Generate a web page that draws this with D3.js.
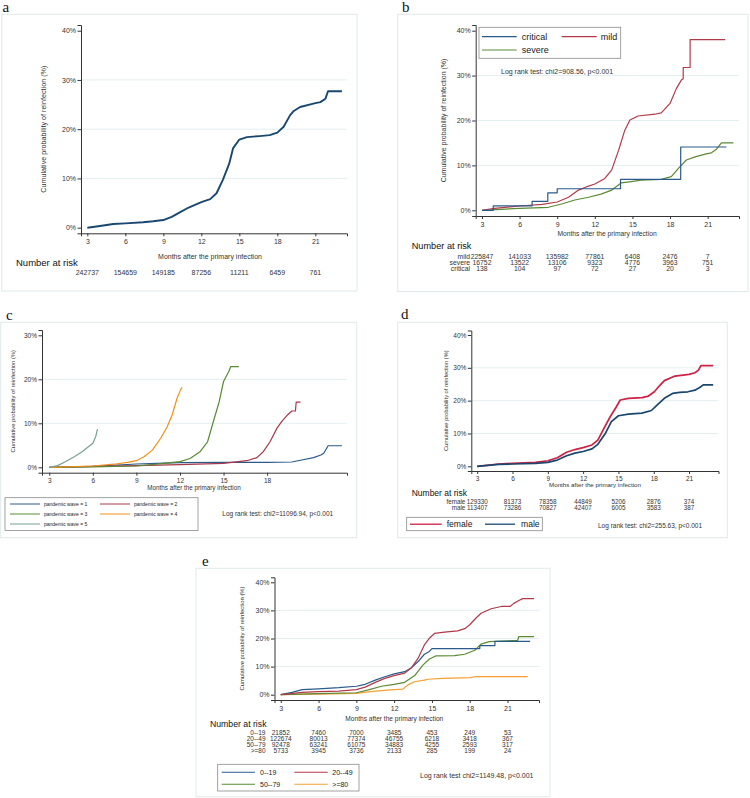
<!DOCTYPE html>
<html><head><meta charset="utf-8">
<script src="https://cdn.jsdelivr.net/npm/d3@7"></script>
<style>
body{margin:0;background:#fff}
svg{display:block}
text{font-family:"Liberation Sans",Arial,sans-serif;fill:#333}
</style>
</head><body>
<svg id="chart" width="750" height="798"></svg>
<script>
// ---------- shared ticks ----------
const monthTicks = [3, 6, 9, 12, 15, 18, 21];
const monthTicksC = [3, 6, 9, 12, 15, 18];
const pctTicks40 = [0, 10, 20, 30, 40];
const pctTicks30 = [0, 10, 20, 30];
const xTitle = "Months after the primary infection";
const yTitle = "Cumulative probability of reinfection (%)";

// ---------- panel a ----------
const overallA = [[3,0],[4,0.34],[5.05,0.74],[6,0.88],[7.4,1.1],[8.2,1.3],[9,1.55],[9.66,2.2],[10.3,3.1],[11,4.1],[12,5.2],[12.7,5.8],[13.2,7.0],[13.7,9.7],[14.2,13.0],[14.5,16.1],[15,17.9],[15.6,18.4],[16.6,18.6],[17.4,18.8],[18,19.3],[18.5,20.5],[19,22.8],[19.3,23.7],[19.8,24.5],[21,25.3],[21.4,25.5],[21.8,26.2],[22.0,27.7],[23.1,27.7]];
const riskA = [242737, 154659, 149185, 87256, 11211, 6459, 761];

// ---------- panel b ----------
const criticalB = [[3,0],[3.9,1.0],[7.0,2.0],[8.25,3.9],[9.0,4.8],[14.05,6.9],[18.85,14.1],[22.5,14.1]];
const mildB = [[3,0],[4,0.45],[6,0.96],[7.8,1.3],[9,1.85],[9.9,2.9],[10.7,4.5],[11.5,5.4],[12,5.85],[12.8,7.1],[13.35,9.0],[13.9,13.4],[14.4,17.9],[14.8,20.1],[15.45,21.0],[16.8,21.4],[17.3,21.7],[18,23.8],[18.5,27.1],[18.9,29.0],[19.05,29.3],[19.05,31.8],[19.6,31.8],[19.6,38.0],[22.4,38.0]];
const severeB = [[3,0],[6,0.45],[8.3,0.67],[9.35,1.4],[10.4,2.3],[11.5,2.9],[12.5,3.6],[13.35,4.5],[14.1,6.1],[14.9,6.4],[15.7,6.7],[17.3,6.9],[18.1,7.5],[18.65,9.3],[19.3,11.2],[20,11.9],[20.8,12.5],[21.3,12.8],[21.7,13.6],[22.1,15.0],[23.05,15.0]];
const riskLabelsB = ["mild", "severe", "critical"];
const riskMildB = [225847, 141033, 135982, 77861, 6408, 2476, 7];
const riskSevereB = [16752, 13522, 13106, 9323, 4776, 3963, 751];
const riskCriticalB = [138, 104, 97, 72, 27, 20, 3];

// ---------- panel c ----------
const wave1C = [[3,0],[6,0.2],[9,0.75],[10.4,0.9],[12,1.06],[15,1.14],[18,1.14],[19.7,1.2],[20.3,1.6],[21.2,2.2],[21.7,2.8],[21.9,3.2],[22.2,4.9],[23.15,4.9]];
const wave2C = [[3,0],[6,0.2],[9,0.4],[12,0.6],[15,0.9],[16.6,1.5],[17.3,2.2],[17.75,3.6],[18.2,5.8],[18.68,8.9],[19.0,10.4],[19.4,11.9],[19.7,12.8],[19.95,12.8],[20.0,14.8],[20.3,14.8]];
const wave3C = [[3,0],[6,0.1],[9,0.3],[10.4,0.7],[12,1.3],[12.7,2.0],[13.4,3.6],[13.9,5.8],[14.3,10.4],[14.7,14.9],[15,19.5],[15.35,21.7],[15.5,22.9],[16.05,22.9]];
const wave4C = [[3,0],[6,0.3],[7.46,0.7],[8.38,1.1],[9,1.5],[9.52,2.4],[10.1,3.9],[10.67,6.6],[11.12,9.2],[11.47,12.0],[11.8,15.7],[12.04,17.6],[12.15,18.2]];
const wave5C = [[3,0],[3.57,0.38],[4.14,1.3],[4.72,2.4],[5.29,3.6],[5.63,4.5],[6,5.45],[6.2,7.0],[6.32,8.7]];
const waveLabelsC = ["pandemic wave = 1", "pandemic wave = 2", "pandemic wave = 3", "pandemic wave = 4", "pandemic wave = 5"];

// ---------- panel d ----------
const femaleD = [[3,0],[4.84,0.7],[6,0.9],[7.95,1.2],[9,1.7],[9.8,2.6],[10.6,4.3],[11.3,5.1],[12,5.7],[12.75,6.5],[13.25,8.0],[13.7,11.1],[14.3,15.1],[14.8,18.0],[15.15,20.2],[15.85,20.7],[17,20.9],[17.55,21.4],[18.05,22.7],[18.5,24.6],[18.9,26.1],[19.8,27.5],[21,28.0],[21.5,28.5],[21.8,29.3],[22.0,30.7],[23.05,30.7]];
const maleD = [[3,0],[4.84,0.6],[6,0.7],[7.95,0.9],[9,1.2],[9.8,1.9],[10.6,3.2],[11.3,4.0],[12,4.5],[12.75,5.3],[13.25,6.7],[13.9,10.1],[14.4,13.6],[15,15.4],[15.85,15.9],[17,16.2],[17.8,17.0],[18.3,18.7],[18.9,20.7],[19.6,22.2],[20.2,22.5],[20.9,22.7],[21.5,23.2],[21.9,24.0],[22.2,24.8],[23.05,24.8]];
const riskLabelsD = ["female", "male"];
const riskFemaleD = [129330, 81373, 78358, 44849, 5206, 2876, 374];
const riskMaleD = [113407, 73286, 70827, 42407, 6005, 3583, 387];

// ---------- panel e ----------
const age0E = [[3,0],[3.9,0.8],[4.7,1.8],[6,2.1],[7.6,2.5],[9,3.0],[9.7,3.7],[10.5,5.2],[11.26,6.4],[12,7.4],[12.84,8.2],[13.37,9.6],[13.9,11.8],[14.4,14.4],[14.8,15.4],[15,16.4],[18.8,16.4],[18.8,17.5],[20,17.5],[20,19.0],[22.8,19.0]];
const age20E = [[3,0],[4.7,0.8],[6,1.07],[7.6,1.3],[9,1.8],[9.7,2.7],[10.5,4.4],[11.26,5.8],[12,6.8],[12.84,7.7],[13.37,9.6],[13.9,13.0],[14.4,17.7],[14.8,20.1],[15.2,21.8],[16,22.3],[17.05,22.7],[17.6,23.5],[18,24.9],[18.5,27.3],[18.9,29.0],[19.7,30.6],[20.5,31.4],[21.2,31.4],[21.5,32.5],[21.9,33.5],[22.2,34.2],[23.1,34.2]];
const age50E = [[3,0],[6,0.36],[9,0.7],[9.95,1.7],[11,3.0],[12,3.7],[12.84,4.4],[13.63,6.8],[14.3,10.6],[14.8,12.7],[15.3,13.8],[16.8,13.9],[17.6,14.4],[18.4,15.8],[18.9,18.0],[19.55,18.9],[21,19.2],[21.8,19.3],[21.9,20.7],[23.1,20.7]];
const age80E = [[3,0],[6,0.24],[9,0.5],[10.5,1.3],[12,1.8],[12.7,2.0],[13.1,3.5],[13.6,4.6],[14.4,5.2],[14.7,5.5],[15.85,5.8],[18.1,6.1],[18.4,6.4],[22.6,6.4]];
const riskLabelsE = ["0--19", "20--49", "50--79", ">=80"];
const risk0E = [21852, 7460, 7000, 3485, 453, 249, 53];
const risk20E = [122674, 80013, 77374, 46755, 6218, 3418, 367];
const risk50E = [92478, 63241, 61075, 34883, 4255, 2593, 317];
const risk80E = [5733, 3945, 3736, 2133, 285, 199, 24];

// ---------- colours ----------
const NAVY = "#1a476f";

const svg = d3.select("#chart");

function panel(cfg) {
  const g = svg.append("g");
  g.append("rect").attr("x", cfg.frame[0]).attr("y", cfg.frame[1])
    .attr("width", cfg.frame[2] - cfg.frame[0]).attr("height", cfg.frame[3] - cfg.frame[1])
    .attr("fill", "none").attr("stroke", "#dfe9ec").attr("stroke-width", 1);
  g.append("text").attr("x", cfg.label[1]).attr("y", cfg.label[2]).text(cfg.label[0])
    .style("font-family", "'Liberation Serif','Times New Roman',serif").style("font-size", "15px").style("fill", "#111");

  const x = d3.scaleLinear().domain([2.5, 23.5]).range([cfg.x0, cfg.x1]);
  const ppp = (cfg.yZero - cfg.yMax) / cfg.maxTick;
  const y = d3.scaleLinear()
    .domain([-(cfg.yBot - cfg.yZero) / ppp, (cfg.yZero - cfg.yTop) / ppp])
    .range([cfg.yBot, cfg.yTop]);

  g.append("g").selectAll("line").data(cfg.yTicks.filter(v => v > 0 && v < cfg.maxTick)).join("line")
    .attr("x1", cfg.x0).attr("x2", cfg.x1).attr("y1", d => y(d)).attr("y2", d => y(d))
    .attr("stroke", "#e3eef1").attr("stroke-width", 1);

  const xa = g.append("g").attr("transform", `translate(0,${cfg.yBot})`)
    .call(d3.axisBottom(x).tickValues(cfg.xTicks).tickFormat(d3.format("d")).tickSizeOuter(0).tickSize(3).tickPadding(cfg.xPad || 3));
  const ya = g.append("g").attr("transform", `translate(${cfg.x0},0)`)
    .call(d3.axisLeft(y).tickValues(cfg.yTicks).tickFormat(d => d + "%").tickSizeOuter(0).tickSize(3.5).tickPadding(1.5));
  [xa, ya].forEach(a => {
    a.select(".domain").attr("stroke", "#333");
    a.selectAll(".tick line").attr("stroke", "#333");
    a.selectAll(".tick text").style("font-size", cfg.tickFont + "px").style("fill", "#333")
      .style("font-family", "'Liberation Sans',Arial,sans-serif");
  });

  g.append("text").attr("x", cfg.xTitlePos[0]).attr("y", cfg.xTitlePos[1]).attr("text-anchor", "middle")
    .style("font-size", cfg.titleFont + "px").text(xTitle);
  g.append("text").attr("transform", `translate(${cfg.yTitleX},${(cfg.yZero + cfg.yMax) / 2}) rotate(-90)`)
    .attr("text-anchor", "middle").style("font-size", cfg.yTitleFont + "px").text(yTitle);

  const line = d3.line().x(d => x(d[0])).y(d => y(d[1]));
  cfg.series.forEach(s => {
    g.append("path").datum(s.data)
      .attr("d", line.curve(s.step ? d3.curveStepAfter : d3.curveLinear))
      .attr("fill", "none").attr("stroke", s.color).attr("stroke-width", cfg.lineW)
      .attr("stroke-linejoin", "round");
  });
  return {g, x, y};
}

function riskTable(p, opt) {
  if (opt.title) {
    p.g.append("text").attr("x", opt.title[0]).attr("y", opt.title[1])
      .style("font-size", opt.titleFont + "px").style("fill", "#111").text("Number at risk");
  }
  opt.rows.forEach((row, i) => {
    const yy = opt.y0 + i * opt.dy;
    if (opt.labels) {
      p.g.append("text").attr("x", opt.labelRight).attr("y", yy).attr("text-anchor", "end")
        .style("font-size", opt.font + "px").text(opt.labels[i]);
    }
    p.g.append("g").selectAll("text").data(row).join("text")
      .attr("x", (d, j) => p.x(monthTicks[j])).attr("y", yy).attr("text-anchor", "middle")
      .style("font-size", opt.font + "px").text(d => d);
  });
}

function legend(p, opt) {
  p.g.append("rect").attr("x", opt.box[0]).attr("y", opt.box[1])
    .attr("width", opt.box[2] - opt.box[0]).attr("height", opt.box[3] - opt.box[1])
    .attr("fill", "#fff").attr("stroke", "#8a8a8a").attr("stroke-width", 0.8);
  opt.items.forEach(it => {
    p.g.append("line").attr("x1", it.lx[0]).attr("x2", it.lx[1]).attr("y1", it.y).attr("y2", it.y)
      .attr("stroke", it.color).attr("stroke-width", opt.lw || 1.2);
    p.g.append("text").attr("x", it.tx).attr("y", it.y + opt.font * 0.36)
      .style("font-size", opt.font + "px").style("fill", "#222").text(it.text);
  });
}

function note(p, x, yb, size, txt) {
  p.g.append("text").attr("x", x).attr("y", yb).style("font-size", size + "px").text(txt);
}

// ===== a =====
const pa = panel({
  frame: [1.7, 14.3, 357, 291], label: ["a", 2.5, 11.7],
  x0: 81, x1: 347, yZero: 227.7, yMax: 30.7, maxTick: 40, yBot: 233.3, yTop: 25,
  xTicks: monthTicks, yTicks: pctTicks40, tickFont: 7, titleFont: 7, yTitleFont: 7.2,
  xTitlePos: [210, 258.5], yTitleX: 46.3, lineW: 1.9,
  series: [{data: overallA, color: NAVY}]
});
riskTable(pa, {title: [16, 265.5], titleFont: 9.5, rows: [riskA], y0: 274.8, dy: 0, font: 7});

// ===== b =====
const pb = panel({
  frame: [397.7, 14.3, 748, 291.5], label: ["b", 402, 11.7],
  x0: 475.7, x1: 739, yZero: 210.3, yMax: 30.7, maxTick: 40, yBot: 216, yTop: 25,
  xTicks: monthTicks, yTicks: pctTicks40, tickFont: 7, titleFont: 6.7, yTitleFont: 7,
  xTitlePos: [607, 235.5], yTitleX: 445.6, lineW: 1.2,
  series: [
    {data: severeB, color: "#5a8a34"},
    {data: mildB, color: "#b23a48"},
    {data: criticalB, color: "#2a5a8c", step: true}
  ]
});
legend(pb, {box: [479, 27.3, 620.7, 58.3], font: 9, lw: 1.2, items: [
  {lx: [482, 516.7], y: 36.7, tx: 521.7, text: "critical", color: "#2a5a8c"},
  {lx: [561.7, 596.7], y: 36.7, tx: 600.7, text: "mild", color: "#b23a48"},
  {lx: [482, 516.7], y: 50, tx: 521.7, text: "severe", color: "#5a8a34"}
]});
note(pb, 501, 74.3, 7, "Log rank test: chi2=908.56, p<0.001");
riskTable(pb, {title: [411.7, 248.7], titleFont: 9.2, labels: riskLabelsB,
  rows: [riskMildB, riskSevereB, riskCriticalB], y0: 258.5, dy: 6.3, font: 6.8, labelRight: 470});

// ===== c =====
const pc = panel({
  frame: [0.7, 322.3, 356.7, 537.7], label: ["c", 6, 319.5],
  x0: 42, x1: 347, yZero: 467.3, yMax: 335.3, maxTick: 30, yBot: 472.7, yTop: 330,
  xTicks: monthTicksC, yTicks: pctTicks30, tickFont: 6.5, titleFont: 6.3, yTitleFont: 5.8,
  xTitlePos: [194, 490], yTitleX: 14.8, lineW: 1.2,
  series: [
    {data: wave1C, color: "#2a5a8c"},
    {data: wave2C, color: "#a8384a"},
    {data: wave3C, color: "#5a8a34"},
    {data: wave4C, color: "#f0901a"},
    {data: wave5C, color: "#7a9e94"}
  ]
});
legend(pc, {box: [5, 497.7, 198, 530.5], font: 5, lw: 1, items: [
  {lx: [10, 40], y: 504, tx: 44, text: waveLabelsC[0], color: "#2a5a8c"},
  {lx: [100, 130], y: 504, tx: 134, text: waveLabelsC[1], color: "#a8384a"},
  {lx: [10, 40], y: 514, tx: 44, text: waveLabelsC[2], color: "#5a8a34"},
  {lx: [100, 130], y: 514, tx: 134, text: waveLabelsC[3], color: "#f0901a"},
  {lx: [10, 40], y: 524, tx: 44, text: waveLabelsC[4], color: "#7a9e94"}
]});
note(pc, 222.3, 515.6, 6.5, "Log rank test: chi2=11096.94, p<0.001");

// ===== d =====
const pd = panel({
  frame: [397.7, 322.3, 727.3, 537.7], label: ["d", 401, 319.3],
  x0: 471.3, x1: 718.5, yZero: 466.3, yMax: 335, maxTick: 40, yBot: 471, yTop: 330.5,
  xTicks: monthTicks, yTicks: pctTicks40, tickFont: 6.5, titleFont: 6.2, yTitleFont: 5.7,
  xTitlePos: [595, 486.6], yTitleX: 448, lineW: 1.7, xPad: 2.5,
  series: [
    {data: femaleD, color: "#cc2244"},
    {data: maleD, color: NAVY}
  ]
});
riskTable(pd, {title: [411.7, 496.4], titleFont: 8.5, labels: riskLabelsD,
  rows: [riskFemaleD, riskMaleD], y0: 504, dy: 6.3, font: 6.3, labelRight: 465.3});
legend(pd, {box: [406.7, 517.3, 542.3, 530.7], font: 8.6, lw: 1.3, items: [
  {lx: [410, 441.7], y: 524.2, tx: 446.7, text: "female", color: "#cc2244"},
  {lx: [485, 515], y: 524.2, tx: 521, text: "male", color: NAVY}
]});
note(pd, 598, 528.3, 6.5, "Log rank test: chi2=255.63, p<0.001");

// ===== e =====
const pe = panel({
  frame: [196, 568.3, 550, 796.7], label: ["e", 202, 566.3],
  x0: 274.5, x1: 539, yZero: 694.7, yMax: 582.3, maxTick: 40, yBot: 700, yTop: 577.3,
  xTicks: monthTicks, yTicks: pctTicks40, tickFont: 7, titleFont: 6.6, yTitleFont: 5.9,
  xTitlePos: [394.3, 720.6], yTitleX: 243.8, lineW: 1.2,
  series: [
    {data: age80E, color: "#f5a033"},
    {data: age50E, color: "#5a8a34"},
    {data: age0E, color: "#2a5a8c"},
    {data: age20E, color: "#b23a48"}
  ]
});
riskTable(pe, {title: [210, 726.8], titleFont: 8.7, labels: riskLabelsE,
  rows: [risk0E, risk20E, risk50E, risk80E], y0: 734.5, dy: 6, font: 6.5, labelRight: 265.5});
legend(pe, {box: [217.7, 764.3, 359, 791], font: 7, lw: 1.1, items: [
  {lx: [221.7, 255], y: 772.3, tx: 260, text: riskLabelsE[0], color: "#2a5a8c"},
  {lx: [294.3, 327.7], y: 772.3, tx: 332.3, text: riskLabelsE[1], color: "#b23a48"},
  {lx: [221.7, 255], y: 784.3, tx: 260, text: riskLabelsE[2], color: "#5a8a34"},
  {lx: [294.3, 327.7], y: 784.3, tx: 332.3, text: riskLabelsE[3], color: "#f5a033"}
]});
note(pe, 420, 778.4, 7, "Log rank test chi2=1149.48, p<0.001");
</script>
</body></html>
